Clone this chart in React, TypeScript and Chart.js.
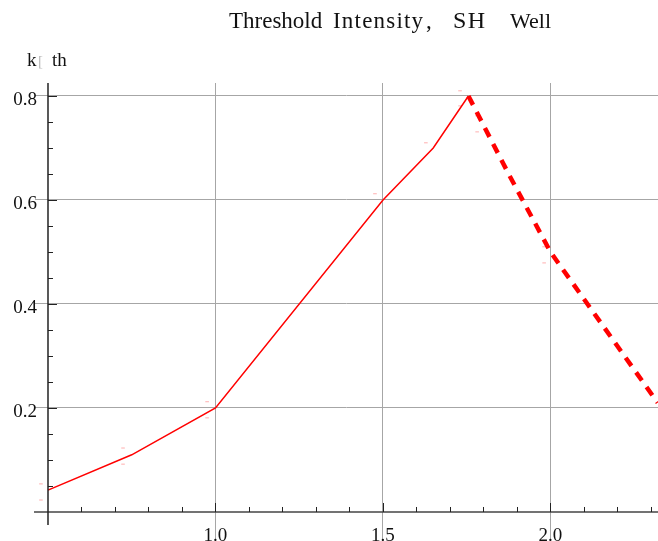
import React, { useEffect, useRef } from "react";
import { Chart, registerables } from "chart.js";

Chart.register(...registerables);

const titleParts = ["Threshold", "Intensity", ",", "SH", "Well"];
const yLabelParts = ["k", "[", "th"];

const solidX = [0.5, 0.75, 1.0, 1.5, 1.65, 1.755];
const solidY = [0.042, 0.11, 0.2, 0.6, 0.7, 0.8];
const dashX = [1.755, 1.875, 2.0, 2.16, 2.32];
const dashY = [0.8, 0.65, 0.5, 0.355, 0.21];
const markX = [0.479, 0.479, 0.724, 0.724, 0.975, 0.975, 1.476, 1.628, 1.73, 1.73, 1.781, 1.781, 1.981, 1.981];
const markY = [0.054, 0.023, 0.123, 0.092, 0.212, 0.181, 0.612, 0.71, 0.81, 0.781, 0.762, 0.731, 0.51, 0.479];

const xMajor = [1.0, 1.5, 2.0];
const xMajorLabels = ["1.0", "1.5", "2.0"];
const xMinor = [0.6, 0.7, 0.8, 0.9, 1.1, 1.2, 1.3, 1.4, 1.6, 1.7, 1.8, 1.9, 2.1, 2.2, 2.3];
const yMajor = [0.2, 0.4, 0.6, 0.8];
const yMajorLabels = ["0.2", "0.4", "0.6", "0.8"];
const yMinor = [0.05, 0.1, 0.15, 0.25, 0.3, 0.35, 0.45, 0.5, 0.55, 0.65, 0.7, 0.75];

const X_MIN = 0.4612;
const X_MAX = 2.3209;
const Y_MIN = -0.0558;
const Y_MAX = 0.825;
const AXIS_X_AT = 0.5;
const AXIS_Y_AT = 0;

const FONT = '"Liberation Serif", "Times New Roman", serif';

// title segment placement: [x, letterSpacing, fontSize]
const titleLayout: [number, number, number][] = [
  [229, 0, 23],
  [333, 1.2, 23],
  [426, 0, 23],
  [453, 1.5, 24],
  [510, 0, 22],
];

const overlay = {
  id: "overlay",
  afterDatasetsDraw(chart: any) {
    const ctx = chart.ctx as CanvasRenderingContext2D;
    const xs = chart.scales.x;
    const ys = chart.scales.y;
    const ax = xs.getPixelForValue(AXIS_X_AT);
    const ay = ys.getPixelForValue(AXIS_Y_AT);
    const top = chart.chartArea.top;
    const left = chart.chartArea.left;
    const right = chart.chartArea.right;
    ctx.save();
    // x axis
    ctx.strokeStyle = "#444";
    ctx.lineWidth = 1.5;
    ctx.beginPath();
    ctx.moveTo(left - 1, ay);
    ctx.lineTo(right, ay);
    ctx.stroke();
    // y axis
    ctx.strokeStyle = "#222";
    ctx.beginPath();
    ctx.moveTo(ax, top);
    ctx.lineTo(ax, ay + 13);
    ctx.stroke();
    // ticks
    ctx.lineWidth = 1;
    ctx.strokeStyle = "#222";
    ctx.beginPath();
    xMajor.forEach((v) => {
      const p = Math.round(xs.getPixelForValue(v)) + 0.5;
      ctx.moveTo(p, ay);
      ctx.lineTo(p, ay - 9);
    });
    xMinor.forEach((v) => {
      const p = Math.round(xs.getPixelForValue(v)) + 0.5;
      ctx.moveTo(p, ay);
      ctx.lineTo(p, ay - 5);
    });
    yMajor.forEach((v) => {
      const p = Math.round(ys.getPixelForValue(v)) + 0.5;
      ctx.moveTo(ax, p);
      ctx.lineTo(ax + 9, p);
    });
    yMinor.forEach((v) => {
      const p = Math.round(ys.getPixelForValue(v)) + 0.5;
      ctx.moveTo(ax, p);
      ctx.lineTo(ax + 5, p);
    });
    ctx.stroke();
    // labels
    ctx.fillStyle = "#111";
    ctx.font = "19px " + FONT;
    ctx.textBaseline = "alphabetic";
    ctx.textAlign = "center";
    xMajor.forEach((v, i) => {
      ctx.fillText(xMajorLabels[i], xs.getPixelForValue(v), ay + 29);
    });
    ctx.textAlign = "right";
    yMajor.forEach((v, i) => {
      ctx.fillText(yMajorLabels[i], ax - 11, ys.getPixelForValue(v) + 9);
    });
    // y axis label
    ctx.textAlign = "left";
    ctx.font = "19px " + FONT;
    ctx.fillStyle = "#111";
    ctx.fillText(yLabelParts[0], 27, 66);
    ctx.fillStyle = "#bbb";
    ctx.font = "15px " + FONT;
    ctx.fillText(yLabelParts[1], 38, 66);
    ctx.fillStyle = "#111";
    ctx.font = "19px " + FONT;
    ctx.fillText(yLabelParts[2], 52, 66);
    // title
    titleParts.forEach((t, i) => {
      const [x, ls, fs] = titleLayout[i];
      ctx.font = fs + "px " + FONT;
      (ctx as any).letterSpacing = ls + "px";
      ctx.fillText(t, x, 28);
    });
    (ctx as any).letterSpacing = "0px";
    ctx.restore();
  },
};

export default function App() {
  const ref = useRef<HTMLCanvasElement | null>(null);
  useEffect(() => {
    document.body.style.margin = "0";
    const canvas = ref.current!;
    const chart = new Chart(canvas, {
      type: "line",
      data: {
        datasets: [
          {
            data: solidX.map((x, i) => ({ x, y: solidY[i] })),
            borderColor: "#ff0000",
            borderWidth: 1.5,
            pointRadius: 0,
            tension: 0,
            fill: false,
          },
          {
            data: dashX.map((x, i) => ({ x, y: dashY[i] })),
            borderColor: "#ff0000",
            borderWidth: 4.5,
            borderDash: [10, 8],
            pointRadius: 0,
            tension: 0,
            fill: false,
          },
          {
            data: markX.map((x, i) => ({ x, y: markY[i] })),
            showLine: false,
            pointStyle: "line",
            pointRadius: 1.8,
            borderWidth: 1,
            borderColor: "rgba(255,120,120,0.6)",
            backgroundColor: "rgba(255,120,120,0.6)",
          },
        ],
      },
      options: {
        animation: false,
        responsive: false,
        events: [],
        layout: { autoPadding: false, padding: { left: 35, top: 83, right: 0, bottom: 0 } },
        plugins: { legend: { display: false }, tooltip: { enabled: false }, title: { display: false } },
        scales: {
          x: {
            type: "linear",
            min: X_MIN,
            max: X_MAX,
            border: { display: false },
            grid: { color: "#a6a6a6", lineWidth: 1, drawTicks: false, tickLength: 0 },
            ticks: { display: false },
            afterBuildTicks: (s: any) => {
              s.ticks = xMajor.map((v) => ({ value: v }));
            },
          },
          y: {
            type: "linear",
            min: Y_MIN,
            max: Y_MAX,
            border: { display: false },
            grid: { color: "#a6a6a6", lineWidth: 1, drawTicks: false, tickLength: 0 },
            ticks: { display: false },
            afterBuildTicks: (s: any) => {
              s.ticks = yMajor.map((v) => ({ value: v }));
            },
          },
        },
      },
      plugins: [overlay],
    });
    return () => chart.destroy();
  }, []);
  return (
    <canvas
      ref={ref}
      width={658}
      height={541}
      style={{ display: "block", width: 658, height: 541 }}
    />
  );
}
